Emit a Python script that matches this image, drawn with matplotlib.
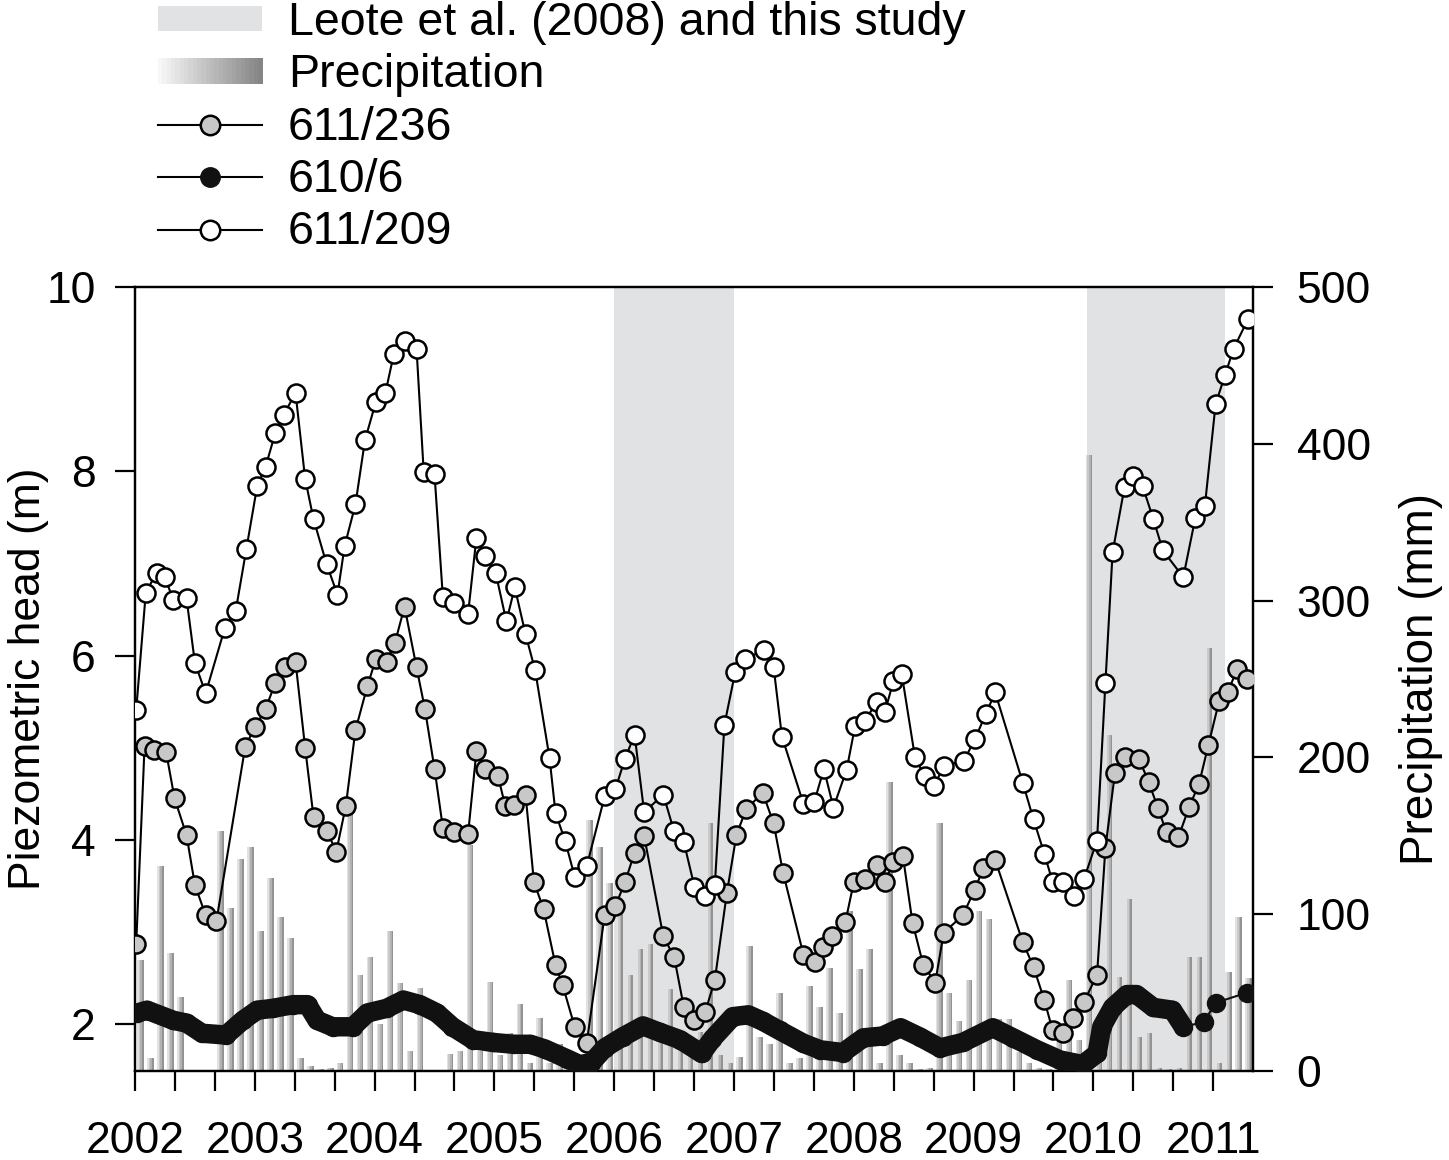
import matplotlib
matplotlib.use("Agg")
import matplotlib.pyplot as plt
from matplotlib.patches import Patch, Rectangle
from matplotlib.lines import Line2D
from matplotlib.legend_handler import HandlerBase
from matplotlib.ticker import MultipleLocator
import numpy as np

plt.rcParams['font.family'] = ['Liberation Sans', 'DejaVu Sans']

# ---------------------------------------------------------------------------
# data (decimal years / m / mm)

# 611/209 (open circles)
white_t = [2002.01, 2002.09, 2002.18, 2002.25, 2002.32, 2002.43, 2002.50, 2002.59,
           2002.75, 2002.84, 2002.93, 2003.02, 2003.09, 2003.17, 2003.24, 2003.34,
           2003.42, 2003.49, 2003.60, 2003.69, 2003.75, 2003.84, 2003.92, 2004.01,
           2004.09, 2004.16, 2004.25, 2004.35, 2004.41, 2004.50, 2004.57, 2004.66,
           2004.78, 2004.85, 2004.92, 2005.01, 2005.10, 2005.17, 2005.26, 2005.34,
           2005.46, 2005.51, 2005.59, 2005.67, 2005.77, 2005.92, 2006.01, 2006.09,
           2006.17, 2006.25, 2006.41, 2006.50, 2006.58, 2006.67, 2006.76, 2006.84,
           2006.92, 2007.01, 2007.09, 2007.25, 2007.33, 2007.40, 2007.58, 2007.67,
           2007.75, 2007.83, 2007.94, 2008.01, 2008.09, 2008.19, 2008.26, 2008.33,
           2008.40, 2008.51, 2008.59, 2008.67, 2008.75, 2008.92, 2009.01, 2009.10,
           2009.18, 2009.41, 2009.50, 2009.59, 2009.66, 2009.75, 2009.84, 2009.92,
           2010.03, 2010.10, 2010.16, 2010.26, 2010.33, 2010.41, 2010.50, 2010.58,
           2010.75, 2010.85, 2010.93, 2011.02, 2011.10, 2011.17, 2011.29]
white_v = [5.41, 6.68, 6.90, 6.85, 6.60, 6.62, 5.92, 5.59,
           6.30, 6.48, 7.16, 7.84, 8.05, 8.41, 8.61, 8.85,
           7.92, 7.48, 6.99, 6.66, 7.19, 7.64, 8.34, 8.75,
           8.85, 9.27, 9.41, 9.33, 7.99, 7.97, 6.63, 6.57,
           6.45, 7.28, 7.08, 6.90, 6.37, 6.74, 6.23, 5.84,
           4.89, 4.29, 3.99, 3.60, 3.71, 4.47, 4.55, 4.88,
           5.14, 4.30, 4.49, 4.09, 3.98, 3.49, 3.39, 3.51,
           5.25, 5.82, 5.96, 6.06, 5.88, 5.12, 4.39, 4.41,
           4.77, 4.35, 4.76, 5.23, 5.29, 5.49, 5.39, 5.72,
           5.80, 4.90, 4.69, 4.58, 4.80, 4.86, 5.09, 5.36,
           5.60, 4.62, 4.22, 3.85, 3.54, 3.54, 3.39, 3.57,
           3.99, 5.70, 7.12, 7.83, 7.95, 7.84, 7.48, 7.14,
           6.85, 7.49, 7.62, 8.73, 9.05, 9.33, 9.65]

# 611/236 (grey circles)
grey_t = [2002.01, 2002.08, 2002.16, 2002.26, 2002.33, 2002.43, 2002.50, 2002.59,
          2002.68, 2002.92, 2003.00, 2003.09, 2003.17, 2003.25, 2003.34, 2003.42,
          2003.49, 2003.60, 2003.68, 2003.76, 2003.84, 2003.94, 2004.01, 2004.10,
          2004.17, 2004.25, 2004.35, 2004.42, 2004.50, 2004.57, 2004.66, 2004.78,
          2004.85, 2004.92, 2005.03, 2005.09, 2005.16, 2005.26, 2005.33, 2005.41,
          2005.51, 2005.57, 2005.67, 2005.77, 2005.92, 2006.01, 2006.09, 2006.17,
          2006.25, 2006.41, 2006.50, 2006.58, 2006.67, 2006.76, 2006.84, 2006.94,
          2007.02, 2007.10, 2007.24, 2007.33, 2007.41, 2007.58, 2007.68, 2007.74,
          2007.82, 2007.93, 2008.00, 2008.09, 2008.19, 2008.26, 2008.33, 2008.41,
          2008.49, 2008.58, 2008.68, 2008.75, 2008.91, 2009.01, 2009.08, 2009.18,
          2009.41, 2009.50, 2009.59, 2009.66, 2009.75, 2009.83, 2009.92, 2010.03,
          2010.10, 2010.18, 2010.26, 2010.38, 2010.46, 2010.54, 2010.61, 2010.71,
          2010.80, 2010.88, 2010.96, 2011.05, 2011.12, 2011.20, 2011.28]
grey_v = [2.87, 5.02, 4.97, 4.95, 4.45, 4.05, 3.51, 3.18,
          3.12, 5.01, 5.22, 5.42, 5.70, 5.87, 5.93, 5.00,
          4.25, 4.10, 3.87, 4.37, 5.19, 5.67, 5.96, 5.93,
          6.14, 6.53, 5.87, 5.42, 4.77, 4.13, 4.08, 4.06,
          4.96, 4.77, 4.69, 4.37, 4.38, 4.49, 3.54, 3.25,
          2.64, 2.42, 1.97, 1.79, 3.18, 3.28, 3.54, 3.86,
          4.04, 2.95, 2.73, 2.19, 2.04, 2.13, 2.48, 3.42,
          4.05, 4.33, 4.51, 4.18, 3.64, 2.75, 2.67, 2.84,
          2.96, 3.11, 3.54, 3.57, 3.73, 3.54, 3.76, 3.82,
          3.10, 2.64, 2.45, 2.99, 3.18, 3.46, 3.69, 3.78,
          2.89, 2.62, 2.26, 1.93, 1.90, 2.07, 2.24, 2.53,
          3.91, 4.73, 4.90, 4.88, 4.63, 4.34, 4.08, 4.03,
          4.36, 4.60, 5.03, 5.51, 5.60, 5.85, 5.74]

# 610/6 (black, densely sampled until late 2010)
black_t = [2002.02, 2002.10, 2002.32, 2002.43, 2002.56, 2002.76, 2002.90, 2003.02,
           2003.15, 2003.32, 2003.44, 2003.52, 2003.65, 2003.82, 2003.94, 2004.10,
           2004.24, 2004.38, 2004.52, 2004.65, 2004.82, 2004.99, 2005.16, 2005.30,
           2005.42, 2005.61, 2005.71, 2005.81, 2005.92, 2006.07, 2006.24, 2006.38,
           2006.55, 2006.73, 2006.82, 2006.99, 2007.12, 2007.24, 2007.38, 2007.58,
           2007.72, 2007.91, 2008.08, 2008.24, 2008.39, 2008.55, 2008.72, 2008.91,
           2009.16, 2009.33, 2009.53, 2009.72, 2009.91, 2010.03, 2010.07, 2010.16,
           2010.28, 2010.36, 2010.50, 2010.66, 2010.75, 2010.92, 2011.02, 2011.28]
black_v = [2.12, 2.15, 2.04, 2.01, 1.90, 1.88, 2.04, 2.15,
           2.17, 2.21, 2.21, 2.04, 1.97, 1.97, 2.12, 2.17,
           2.26, 2.21, 2.12, 1.97, 1.83, 1.80, 1.78, 1.78,
           1.73, 1.62, 1.56, 1.58, 1.74, 1.86, 1.98, 1.91,
           1.83, 1.68, 1.84, 2.08, 2.10, 2.03, 1.93, 1.79,
           1.72, 1.69, 1.85, 1.87, 1.96, 1.86, 1.74, 1.80,
           1.96, 1.85, 1.72, 1.61, 1.56, 1.68, 1.97, 2.18,
           2.32, 2.32, 2.18, 2.15, 1.97, 2.02, 2.23, 2.34]
black_dense_n = 61  # readings up to here overlap into a solid band

# monthly precipitation, Jan 2002 - Apr 2011 (mm)
precip = [71, 8, 131, 75, 47, 0, 0, 0, 153, 104, 135, 143,
          89, 123, 98, 85, 8, 3, 1, 2, 5, 164, 61, 73,
          30, 89, 56, 13, 53, 0, 0, 11, 13, 144, 13, 57,
          10, 24, 43, 5, 34, 5, 17, 3, 0, 160, 143, 120,
          103, 61, 78, 81, 26, 52, 15, 10, 25, 158, 10, 5,
          9, 80, 22, 17, 50, 5, 8, 54, 41, 66, 37, 102,
          65, 78, 5, 184, 10, 5, 1, 2, 158, 50, 32, 58,
          102, 97, 33, 33, 12, 5, 2, 1, 20, 58, 20, 393,
          30, 214, 60, 110, 22, 24, 2, 1, 2, 73, 73, 270,
          5, 63, 98, 59]
precip_start = 2002

# study periods (shaded)
periods = [(2006.0, 2007.0), (2009.95, 2011.1)]

years = list(range(2002, 2012))

# ---------------------------------------------------------------------------

class GradientHandler(HandlerBase):
    def create_artists(self, legend, orig_handle, xdescent, ydescent,
                       width, height, fontsize, trans):
        n = 24
        arts = []
        for i in range(n):
            g = 0.97 - 0.45 * i / (n - 1)
            r = Rectangle((-xdescent + i * width / n, -ydescent), width / n * 1.1, height,
                          facecolor=(g, g, g), edgecolor='none', transform=trans)
            arts.append(r)
        return arts


class GradHandle(Patch):
    pass


fig = plt.figure(figsize=(14.49, 11.60), dpi=100)
ax = fig.add_axes([135 / 1449, 1 - 1071 / 1160, (1253 - 135) / 1449, (1071 - 287) / 1160])
ax2 = ax.twinx()
ax.set_zorder(ax2.get_zorder() + 1)
ax.patch.set_visible(False)

shade = '#e1e2e4'
for a, b in periods:
    ax2.axvspan(a, b, color=shade, lw=0, zorder=0)

# precipitation bars with a left-to-right grey gradient
mt = precip_start + (np.arange(len(precip)) + 0.55) / 12.0
bw = 0.055
strip_cols = ['#e2e2e2', '#cacaca', '#b2b2b2', '#939393']
ns = len(strip_cols)
for i, c in enumerate(strip_cols):
    ax2.bar(mt - bw / 2 + (i + 0.5) * bw / ns, precip, width=bw / ns * 1.05,
            color=c, linewidth=0, zorder=2)

ms = 13
mew = 1.8
ax.plot(white_t, white_v, '-o', color='k', lw=1.5, ms=ms, mfc='white', mec='k', mew=mew, zorder=4)
ax.plot(grey_t, grey_v, '-o', color='k', lw=1.5, ms=ms, mfc='#c8c8c8', mec='k', mew=mew, zorder=3)
ax.plot(black_t[:black_dense_n], black_v[:black_dense_n], '-', color='#111111', lw=14,
        solid_capstyle='round', solid_joinstyle='round', zorder=5)
ax.plot(black_t, black_v, '-o', color='#111111', lw=1.5, ms=ms, mfc='#111111', mec='#111111',
        zorder=5)

ax.set_xlim(2002, 2011.332)
ax.set_ylim(1.49, 10)
ax2.set_ylim(0, 500)

ax.set_xticks(years)
ax.xaxis.set_minor_locator(MultipleLocator(1 / 3))
ax.set_yticks([2, 4, 6, 8, 10])
ax2.set_yticks([0, 100, 200, 300, 400, 500])

ax.tick_params(axis='x', which='both', direction='out', length=14.4, width=1.6,
               labelsize=32, pad=21.5, top=False)
ax.tick_params(axis='y', which='major', direction='out', length=14.4, width=1.6,
               labelsize=32, pad=14)
ax2.tick_params(axis='y', which='major', direction='out', length=14.4, width=1.6,
                labelsize=32, pad=17)

for a in (ax, ax2):
    for s in a.spines.values():
        s.set_linewidth(1.6)

ax.set_ylabel('Piezometric head (m)', fontsize=32, labelpad=-2)
ax2.set_ylabel('Precipitation (mm)', fontsize=33, labelpad=20)

handles = [
    Patch(facecolor=shade, edgecolor='none'),
    GradHandle(facecolor='grey'),
    Line2D([], [], color='k', lw=1.5, marker='o', ms=14, mfc='#c8c8c8', mec='k', mew=mew),
    Line2D([], [], color='k', lw=1.5, marker='o', ms=14, mfc='#111111', mec='#111111'),
    Line2D([], [], color='k', lw=1.5, marker='o', ms=14, mfc='white', mec='k', mew=mew),
]
labels = ['Leote et al. (2008) and this study', 'Precipitation', '611/236', '610/6', '611/209']
fig.legend(handles, labels, loc='upper left', bbox_to_anchor=(158 / 1449, 1.0 - 1 / 1160),
           frameon=False, fontsize=33.5, handlelength=2.24, handleheight=0.47,
           handletextpad=0.55, labelspacing=0.18, borderpad=0, borderaxespad=0,
           handler_map={GradHandle: GradientHandler()})

fig.savefig('out.png', dpi=100)
